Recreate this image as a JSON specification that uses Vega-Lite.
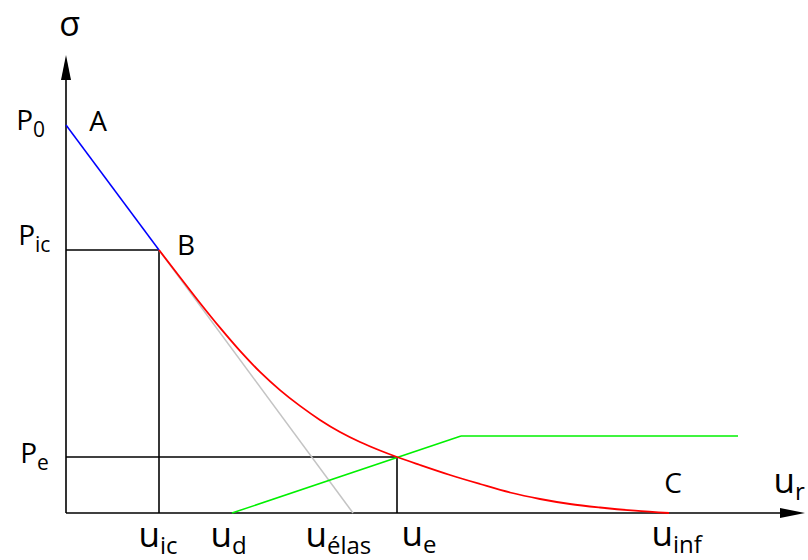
{
  "$schema": "https://vega.github.io/schema/vega-lite/v6.json",
  "width": 742,
  "height": 513,
  "autosize": {"type": "none"},
  "padding": {"left": 66, "top": 0, "right": 0, "bottom": 47},
  "background": "white",
  "config": {"view": {"stroke": null}, "text": {"font": "Open Sans", "color": "black"}},
  "datasets": {
    "segments": [
      {"kind": "axis", "x": 0, "y": 0, "x2": 0, "y2": 4.5},
      {"kind": "axis", "x": 0, "y": 0, "x2": 7.3, "y2": 0},
      {"kind": "guide", "x": 0, "y": 2.63, "x2": 0.93, "y2": 2.63},
      {"kind": "guide", "x": 0.93, "y": 2.63, "x2": 0.93, "y2": 0},
      {"kind": "guide", "x": 0, "y": 0.56, "x2": 3.31, "y2": 0.56},
      {"kind": "guide", "x": 3.31, "y": 0.56, "x2": 3.31, "y2": 0},
      {"kind": "extension", "x": 0.93, "y": 2.63, "x2": 2.87, "y2": 0},
      {"kind": "elastic", "x": 0, "y": 3.88, "x2": 0.93, "y2": 2.63},
      {"kind": "support", "x": 1.66, "y": 0, "x2": 3.95, "y2": 0.77},
      {"kind": "support", "x": 3.95, "y": 0.77, "x2": 6.72, "y2": 0.77}
    ],
    "curve": [
      {"x": 0.93, "y": 2.63},
      {"x": 1.14, "y": 2.358},
      {"x": 1.34, "y": 2.1},
      {"x": 1.54, "y": 1.853},
      {"x": 1.74, "y": 1.621},
      {"x": 1.94, "y": 1.411},
      {"x": 2.14, "y": 1.229},
      {"x": 2.34, "y": 1.071},
      {"x": 2.54, "y": 0.931},
      {"x": 2.74, "y": 0.81},
      {"x": 2.94, "y": 0.71},
      {"x": 3.14, "y": 0.625},
      {"x": 3.31, "y": 0.56},
      {"x": 3.54, "y": 0.48},
      {"x": 3.84, "y": 0.38},
      {"x": 4.14, "y": 0.29},
      {"x": 4.44, "y": 0.205},
      {"x": 4.74, "y": 0.14},
      {"x": 5.04, "y": 0.09},
      {"x": 5.34, "y": 0.055},
      {"x": 5.69, "y": 0.023},
      {"x": 6.03, "y": 0}
    ],
    "arrows": [
      {"dir": "up", "x": 0, "y": 4.455},
      {"dir": "right", "x": 7.265, "y": 0}
    ],
    "labels": [
      {"kind": "symbol", "main": "σ", "sub": "", "x": 0.14, "y": 4.77},
      {"kind": "p", "main": "P", "sub": "0", "x": -0.33, "y": 3.83},
      {"kind": "p", "main": "P", "sub": "ic", "x": -0.31, "y": 2.68},
      {"kind": "p", "main": "P", "sub": "e", "x": -0.29, "y": 0.5},
      {"kind": "point", "main": "A", "sub": "", "x": 0.41, "y": 3.82},
      {"kind": "point", "main": "B", "sub": "", "x": 1.29, "y": 2.58},
      {"kind": "point", "main": "C", "sub": "", "x": 6.16, "y": 0.2},
      {"kind": "u", "main": "u", "sub": "r", "x": 7.29, "y": 0.2},
      {"kind": "u", "main": "u", "sub": "ic", "x": 0.94, "y": -0.34},
      {"kind": "u", "main": "u", "sub": "d", "x": 1.66, "y": -0.34},
      {"kind": "u", "main": "u", "sub": "élas", "x": 2.61, "y": -0.34},
      {"kind": "u", "main": "u", "sub": "e", "x": 3.57, "y": -0.33},
      {"kind": "u", "main": "u", "sub": "inf", "x": 6.07, "y": -0.33}
    ]
  },
  "encoding": {
    "x": {"field": "x", "type": "quantitative", "scale": {"domain": [0, 7.42], "nice": false, "zero": false}, "axis": null},
    "y": {"field": "y", "type": "quantitative", "scale": {"domain": [0, 5.13], "nice": false, "zero": false}, "axis": null}
  },
  "layer": [
    {
      "data": {"name": "segments"},
      "mark": {"type": "rule", "strokeCap": "butt"},
      "encoding": {
        "x2": {"field": "x2"},
        "y2": {"field": "y2"},
        "color": {
          "field": "kind", "type": "nominal", "legend": null,
          "scale": {"domain": ["axis", "guide", "extension", "elastic", "support"], "range": ["#000000", "#000000", "#c4c4c4", "#0000ff", "#00f000"]}
        },
        "strokeWidth": {
          "field": "kind", "type": "nominal", "legend": null,
          "scale": {"domain": ["axis", "guide", "extension", "elastic", "support"], "range": [1.6, 1.5, 1.2, 1.6, 2]}
        }
      }
    },
    {
      "data": {"name": "curve"},
      "mark": {"type": "line", "color": "#ff0000", "strokeWidth": 1.8, "interpolate": "monotone"},
      "encoding": {}
    },
    {
      "data": {"name": "arrows"},
      "mark": {"type": "point", "filled": true, "color": "black", "size": 625, "opacity": 1, "strokeWidth": 0},
      "encoding": {
        "shape": {
          "field": "dir", "type": "nominal", "legend": null,
          "scale": {"domain": ["up", "right"], "range": ["M0,-1L0.4,1L-0.4,1Z", "M1,0L-1,0.4L-1,-0.4Z"]}
        }
      }
    },
    {
      "data": {"name": "labels"},
      "transform": [{"filter": "datum.kind === 'symbol'"}],
      "mark": {"type": "text", "align": "right", "baseline": "alphabetic", "fontSize": 34},
      "encoding": {"text": {"field": "main"}}
    },
    {
      "data": {"name": "labels"},
      "transform": [{"filter": "datum.kind === 'point'"}],
      "mark": {"type": "text", "align": "right", "baseline": "alphabetic", "fontSize": 28},
      "encoding": {"text": {"field": "main"}}
    },
    {
      "data": {"name": "labels"},
      "transform": [{"filter": "datum.kind === 'p'"}],
      "mark": {"type": "text", "align": "right", "baseline": "alphabetic", "fontSize": 28},
      "encoding": {"text": {"field": "main"}}
    },
    {
      "data": {"name": "labels"},
      "transform": [{"filter": "datum.kind === 'p'"}],
      "mark": {"type": "text", "align": "left", "baseline": "alphabetic", "fontSize": 21, "dy": 7},
      "encoding": {"text": {"field": "sub"}}
    },
    {
      "data": {"name": "labels"},
      "transform": [{"filter": "datum.kind === 'u'"}],
      "mark": {"type": "text", "align": "right", "baseline": "alphabetic", "fontSize": 35},
      "encoding": {"text": {"field": "main"}}
    },
    {
      "data": {"name": "labels"},
      "transform": [{"filter": "datum.kind === 'u'"}],
      "mark": {"type": "text", "align": "left", "baseline": "alphabetic", "fontSize": 24, "dy": 7},
      "encoding": {"text": {"field": "sub"}}
    }
  ]
}
